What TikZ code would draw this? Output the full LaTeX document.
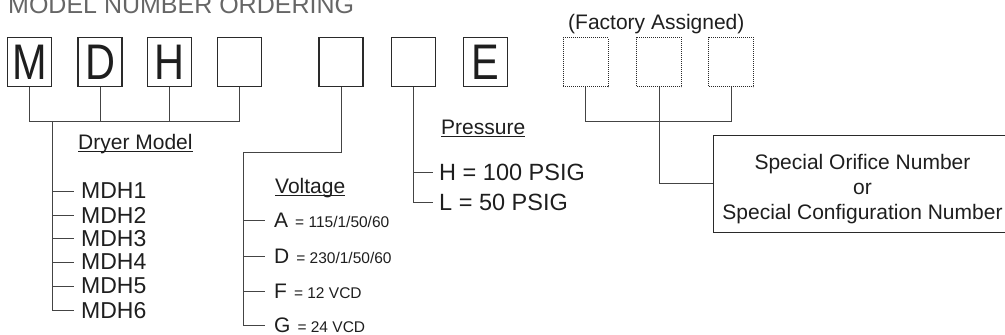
\documentclass[tikz,border=0pt]{standalone}
\usepackage{fontspec}
\setmainfont{Liberation Sans}
\newfontfamily\boxfont[FakeStretch=0.83]{Liberation Sans}
\usetikzlibrary{positioning}

\definecolor{linegray}{HTML}{444444}
\definecolor{boxgray}{HTML}{2A2A2A}
\definecolor{inkgray}{HTML}{1E1E1E}
\definecolor{titlegray}{HTML}{666666}

\newcommand{\ulhead}[1]{\setbox0=\hbox{#1}\rlap{\rule[-3pt]{\wd0}{0.8pt}}\box0}

\tikzset{
	codebox/.style={draw=boxgray, line width=1.1pt, minimum width=44, minimum height=49, inner sep=0, text=inkgray, font=\boxfont\fontsize{50}{50}\selectfont},
	factbox/.style={draw=boxgray, line width=0.8pt, dash pattern=on 1pt off 1pt, minimum width=45, minimum height=49, inner sep=0},
	wire/.style={draw=linegray, line width=0.9pt},
	heading/.style={anchor=base west, inner sep=0, text=inkgray, font=\fontsize{21}{21}\selectfont},
	mdhitem/.style={anchor=west, inner xsep=7pt, inner ysep=0, text=inkgray, font=\fontsize{23}{23}\selectfont},
	voltitem/.style={anchor=west, inner xsep=9pt, inner ysep=0, text=inkgray, font=\fontsize{21}{21}\selectfont},
	presitem/.style={anchor=west, inner xsep=6pt, inner ysep=0, text=inkgray, font=\fontsize{23.5}{23.5}\selectfont}
}

\newcommand{\volt}[1]{\kern7pt{\fontsize{15.5}{15.5}\selectfont = #1}}

\begin{document}
\begin{tikzpicture}[x=1pt,y=-1pt]
		\useasboundingbox (0,0) rectangle (1005,335);
		
		%Title
		\node (title) at(8,13.5) [anchor=base west, inner sep=0, text=titlegray, font=\fontsize{25}{25}\selectfont]{MODEL NUMBER ORDERING};
		
		%Code boxes
		\node (boxM) at(29.5,62) [codebox]{M};
		\node (boxD) at(100,62) [codebox]{D};
		\node (boxH) at(169.5,62) [codebox]{H};
		\node (boxModel) at(239.5,62) [codebox]{};
		\node (boxVolt) at(341,62) [codebox]{};
		\node (boxPres) at(413.5,62) [codebox]{};
		\node (boxE) at(485.5,62) [codebox]{E};
		
		%Factory boxes
		\node (factLabel) at(568,29) [heading]{(Factory Assigned)};
		\node (boxFa) at(585.5,62) [factbox]{};
		\node (boxFb) at(659,62) [factbox]{};
		\node (boxFc) at(731,62) [factbox]{};
		
		%Dryer model
		\node (modelHead) at(78,149) [heading]{\ulhead{Dryer Model}};
		\node (mdhA) at(74,191) [mdhitem]{MDH1};
		\node (mdhB) at(74,215) [mdhitem]{MDH2};
		\node (mdhC) at(74,238.5) [mdhitem]{MDH3};
		\node (mdhD) at(74,262) [mdhitem]{MDH4};
		\node (mdhE) at(74,286) [mdhitem]{MDH5};
		\node (mdhF) at(74,310.5) [mdhitem]{MDH6};
		
		%Voltage
		\node (voltHead) at(275,193) [heading]{\ulhead{Voltage}};
		\node (voltA) at(265,220) [voltitem]{A\volt{115/1/50/60}};
		\node (voltD) at(265,256) [voltitem]{D\volt{230/1/50/60}};
		\node (voltF) at(265,291) [voltitem]{F\volt{12 VCD}};
		\node (voltG) at(265,325) [voltitem]{G\volt{24 VCD}};
		
		%Pressure
		\node (presHead) at(441,134) [heading]{\ulhead{Pressure}};
		\node (presH) at(433,172.5) [presitem]{H = 100 PSIG};
		\node (presL) at(433,202.5) [presitem]{L = 50 PSIG};
		
		%Special number
		\node (special) at(862.5,183.5) [draw=boxgray, line width=1pt, minimum width=299, minimum height=97, inner sep=0, align=center, text=inkgray, font=\fontsize{21}{25}\selectfont]{\rule{0pt}{27pt}Special Orifice Number\\or\\Special Configuration Number};
		
		%Links dryer model
		\coordinate (modelBus) at(52,121);
		\draw[wire] (boxM.south) |- (boxModel.south |- modelBus) -- (boxModel.south);
		\draw[wire] (boxD.south) -- (boxD.south |- modelBus);
		\draw[wire] (boxH.south) -- (boxH.south |- modelBus);
		\draw[wire] (modelBus) |- (mdhF.west);
		\draw[wire] (modelBus |- mdhA.west) -- (mdhA.west);
		\draw[wire] (modelBus |- mdhB.west) -- (mdhB.west);
		\draw[wire] (modelBus |- mdhC.west) -- (mdhC.west);
		\draw[wire] (modelBus |- mdhD.west) -- (mdhD.west);
		\draw[wire] (modelBus |- mdhE.west) -- (mdhE.west);
		
		%Links voltage
		\coordinate (voltBus) at(243,152);
		\draw[wire] (boxVolt.south) |- (voltBus) |- (voltG.west);
		\draw[wire] (voltBus |- voltA.west) -- (voltA.west);
		\draw[wire] (voltBus |- voltD.west) -- (voltD.west);
		\draw[wire] (voltBus |- voltF.west) -- (voltF.west);
		
		%Links pressure
		\draw[wire] (boxPres.south) |- (presL.west);
		\draw[wire] (boxPres.south |- presH.west) -- (presH.west);
		
		%Links factory
		\coordinate (factBus) at(659,121);
		\draw[wire] (boxFa.south) |- (boxFc.south |- factBus) -- (boxFc.south);
		\draw[wire] (boxFb.south) |- (special.west);
		
\end{tikzpicture}
\end{document}
